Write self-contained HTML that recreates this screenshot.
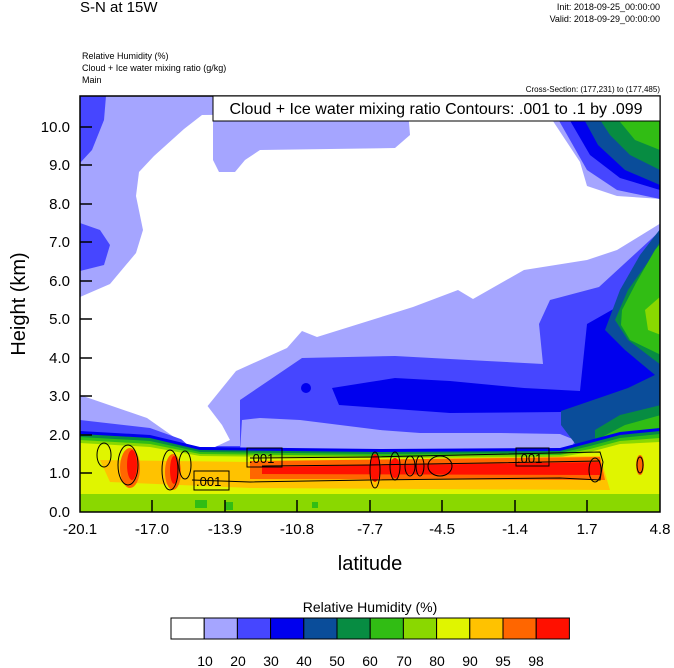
<!DOCTYPE html>
<html><head><meta charset="utf-8"><style>
body{margin:0;background:#fff;width:674px;height:668px;overflow:hidden}
svg{display:block;font-family:"Liberation Sans",sans-serif}
</style></head><body>
<svg width="674" height="668" viewBox="0 0 674 668">
<text x="80" y="12" font-size="15">S-N at 15W</text>
<text x="660" y="10" font-size="9" text-anchor="end">Init: 2018-09-25_00:00:00</text>
<text x="660" y="22" font-size="9" text-anchor="end">Valid: 2018-09-29_00:00:00</text>
<text x="82" y="59" font-size="9">Relative Humidity   (%)</text>
<text x="82" y="71" font-size="9">Cloud + Ice water mixing ratio   (g/kg)</text>
<text x="82" y="83" font-size="9">Main</text>
<text x="660" y="92" font-size="8" text-anchor="end">Cross-Section: (177,231) to (177,485)</text>
<defs><clipPath id="c"><rect x="80" y="96" width="580" height="416"/></clipPath></defs>
<g clip-path="url(#c)">
<rect x="80" y="96" width="580" height="416" fill="#a5a5ff"/>
<path d="M202,115 L547,112 L580,162 L587,186 L617,196 L661,199 L661,223 L617,250 L587,260 L524,270 L473,299 L458,290 L413,307 L317,337 L302,331 L287,348 L236,371 L206,408 L210,425 L225,440 L215,446 L203,445 L191,449 L147,418 L80,395 L80,297 L110,284 L136,253 L143,230 L136,196 L139,172 L154,156 L184,129 Z" fill="#fff"/>
<path d="M213,110 L408,110 L410,135 L395,148 L260,150 L245,160 L235,172 L219,172 L213,160 Z" fill="#a5a5ff"/>
<path d="M80,96 L106,96 L104,120 L92,150 L80,163 Z" fill="#4646ff"/>
<path d="M80,223 L100,230 L110,245 L104,265 L80,271 Z" fill="#4646ff"/>
<path d="M554,112 L660,112 L660,199 L617,190 L587,170 L570,140 Z" fill="#4646ff"/>
<path d="M565,112 L660,112 L660,190 L620,178 L590,155 Z" fill="#0000ee"/>
<path d="M580,112 L660,112 L660,185 L625,170 L598,145 Z" fill="#0a4d9a"/>
<path d="M595,112 L660,112 L660,170 L630,155 L610,135 Z" fill="#078c42"/>
<path d="M612,112 L660,112 L660,150 L635,140 Z" fill="#31bd14"/>
<path d="M243,398 L302,358 L395,356 L487,361 L543,364 L539,324 L550,300 L599,287 L636,253 L661,230 L661,512 L80,512 L80,420 L150,428 L200,446 L240,446 L240,400 Z" fill="#4646ff"/>
<path d="M160,420 L206,404 L222,425 L230,440 L215,447 L190,447 Z" fill="#fff"/>
<path d="M332,388 L395,378 L450,381 L524,388 L580,391 L587,324 L617,307 L650,280 L661,236 L661,420 L580,420 L561,412 L450,413 L339,405 Z" fill="#0000ee"/>
<circle cx="306" cy="388" r="5" fill="#0000ee"/>
<path d="M242,420 L260,418 L300,420 L380,430 L420,433 L500,433 L560,434 L575,440 L570,452 L240,452 Z" fill="#a5a5ff"/>
<path d="M561,411 L599,398 L628,388 L661,372 L661,470 L580,450 L561,425 Z" fill="#0a4d9a"/>
<path d="M605,330 L620,290 L640,255 L661,228 L661,380 L625,350 Z" fill="#0a4d9a"/>
<path d="M615,320 L628,290 L648,262 L661,240 L661,365 L628,340 Z" fill="#078c42"/>
<path d="M622,310 L636,283 L655,250 L661,243 L661,355 L630,340 L621,325 Z" fill="#31bd14"/>
<path d="M645,310 L661,296 L661,335 L648,330 Z" fill="#8ad800"/>
<path d="M595,430 L620,415 L661,405 L661,460 L595,450 Z" fill="#078c42"/>
<path d="M600,438 L625,425 L661,415 L661,460 L600,455 Z" fill="#31bd14"/>
<path d="M80,431 L150,435 L200,447 L380,449 L560,448 L590,440 L620,432 L660,428 L660,512 L80,512 Z" fill="#0000ee"/>
<path d="M80,434 L150,438 L200,450 L380,452 L560,451 L590,443 L620,435 L660,431 L660,512 L80,512 Z" fill="#078c42"/>
<path d="M80,437 L150,441 L200,452 L380,454 L560,453 L590,446 L620,438 L660,434 L660,512 L80,512 Z" fill="#31bd14"/>
<path d="M80,440 L150,444 L200,454 L380,456 L560,455 L590,449 L620,441 L660,438 L660,512 L80,512 Z" fill="#8ad800"/>
<path d="M80,443 L150,447 L200,456 L380,458 L560,457 L590,452 L620,444 L660,442 L660,495 L80,495 Z" fill="#e0f500"/>
<rect x="80" y="494" width="580" height="18" fill="#8ad800"/>
<rect x="195" y="500" width="12" height="8" fill="#31bd14"/><rect x="225" y="502" width="8" height="8" fill="#31bd14"/><rect x="312" y="502" width="6" height="6" fill="#31bd14"/>
<path d="M100,460 L250,462 L600,456 L610,490 L250,488 L110,482 Z" fill="#ffc200"/>
<path d="M250,461 L600,457 L605,480 L250,479 Z" fill="#ff6600"/>
<path d="M262,467 L600,462 L600,475 L262,474 Z" fill="#ff1000"/>
<ellipse cx="130" cy="468" rx="10" ry="20" fill="#ff6600"/>
<ellipse cx="132" cy="465" rx="5" ry="15" fill="#ff1000"/>
<ellipse cx="173" cy="472" rx="8" ry="18" fill="#ff6600"/>
<ellipse cx="174" cy="470" rx="4" ry="14" fill="#ff1000"/>
<ellipse cx="375" cy="468" rx="5" ry="14" fill="#ff1000"/>
<ellipse cx="395" cy="468" rx="5" ry="10" fill="#ff1000"/>
<ellipse cx="640" cy="465" rx="4" ry="10" fill="#ff6600"/>
<g fill="none" stroke="#000" stroke-width="1">
<path d="M250,458 L370,457 L600,452 L603,462 L600,480 L560,478 L370,480 L250,482 L192,480"/>
<path d="M262,466 L370,465 L600,461"/>
<ellipse cx="104" cy="455" rx="7" ry="12"/>
<ellipse cx="128" cy="465" rx="10" ry="20"/>
<ellipse cx="170" cy="470" rx="8" ry="20"/>
<ellipse cx="185" cy="465" rx="6" ry="14"/>
<ellipse cx="375" cy="470" rx="5" ry="18"/>
<ellipse cx="395" cy="466" rx="5" ry="14"/>
<ellipse cx="410" cy="466" rx="5" ry="10"/>
<ellipse cx="420" cy="466" rx="4" ry="10"/>
<ellipse cx="440" cy="466" rx="12" ry="10"/>
<ellipse cx="595" cy="470" rx="6" ry="12"/>
<ellipse cx="640" cy="465" rx="3" ry="8"/>
</g>
<g font-size="13">
<rect x="247" y="448" width="35" height="19" fill="none" stroke="#000"/><text x="249" y="463">.001</text>
<rect x="194" y="471" width="35" height="19" fill="none" stroke="#000"/><text x="196" y="486">.001</text>
<rect x="516" y="448" width="33" height="18" fill="none" stroke="#000"/><text x="517" y="463">.001</text>
</g>
</g>
<rect x="80" y="96" width="580" height="416" fill="none" stroke="#000" stroke-width="1.5"/>
<g stroke="#000" stroke-width="1.5">
<line x1="80" y1="127" x2="92" y2="127"/><line x1="80" y1="165" x2="92" y2="165"/><line x1="80" y1="204" x2="92" y2="204"/><line x1="80" y1="242" x2="92" y2="242"/><line x1="80" y1="281" x2="92" y2="281"/><line x1="80" y1="319" x2="92" y2="319"/><line x1="80" y1="358" x2="92" y2="358"/><line x1="80" y1="396" x2="92" y2="396"/><line x1="80" y1="435" x2="92" y2="435"/><line x1="80" y1="473" x2="92" y2="473"/>
<line x1="152" y1="512" x2="152" y2="500"/><line x1="225" y1="512" x2="225" y2="500"/><line x1="297" y1="512" x2="297" y2="500"/><line x1="370" y1="512" x2="370" y2="500"/><line x1="442" y1="512" x2="442" y2="500"/><line x1="515" y1="512" x2="515" y2="500"/><line x1="587" y1="512" x2="587" y2="500"/>
</g>
<g font-size="15" text-anchor="end">
<text x="70" y="132">10.0</text><text x="70" y="170">9.0</text><text x="70" y="209">8.0</text><text x="70" y="247">7.0</text><text x="70" y="286">6.0</text><text x="70" y="324">5.0</text><text x="70" y="363">4.0</text><text x="70" y="401">3.0</text><text x="70" y="440">2.0</text><text x="70" y="478">1.0</text><text x="70" y="517">0.0</text>
</g>
<g font-size="15" text-anchor="middle">
<text x="80" y="534">-20.1</text><text x="152" y="534">-17.0</text><text x="225" y="534">-13.9</text><text x="297" y="534">-10.8</text><text x="370" y="534">-7.7</text><text x="442" y="534">-4.5</text><text x="515" y="534">-1.4</text><text x="587" y="534">1.7</text><text x="660" y="534">4.8</text>
</g>
<text transform="translate(25,304) rotate(-90)" font-size="20" text-anchor="middle">Height (km)</text>
<text x="370" y="570" font-size="20" text-anchor="middle">latitude</text>
<rect x="213" y="96" width="447" height="25" fill="#fff" stroke="#000"/>
<text x="436" y="114" font-size="16" text-anchor="middle">Cloud + Ice water mixing ratio Contours: .001 to .1 by .099</text>
<text x="370" y="612" font-size="14" text-anchor="middle">Relative Humidity  (%)</text>
<g stroke="#000" stroke-width="1">
<rect x="171" y="618" width="33.2" height="21" fill="#fff"/>
<rect x="204.2" y="618" width="33.2" height="21" fill="#a5a5ff"/>
<rect x="237.4" y="618" width="33.2" height="21" fill="#4646ff"/>
<rect x="270.6" y="618" width="33.2" height="21" fill="#0000ee"/>
<rect x="303.8" y="618" width="33.2" height="21" fill="#0a4d9a"/>
<rect x="337" y="618" width="33.2" height="21" fill="#078c42"/>
<rect x="370.2" y="618" width="33.2" height="21" fill="#31bd14"/>
<rect x="403.4" y="618" width="33.2" height="21" fill="#8ad800"/>
<rect x="436.6" y="618" width="33.2" height="21" fill="#e0f500"/>
<rect x="469.8" y="618" width="33.2" height="21" fill="#ffc200"/>
<rect x="503" y="618" width="33.2" height="21" fill="#ff6600"/>
<rect x="536.2" y="618" width="33.2" height="21" fill="#ff1000"/>
</g>
<g font-size="14" text-anchor="middle">
<text x="205" y="666">10</text><text x="238" y="666">20</text><text x="271" y="666">30</text><text x="304" y="666">40</text><text x="337" y="666">50</text><text x="370" y="666">60</text><text x="404" y="666">70</text><text x="437" y="666">80</text><text x="470" y="666">90</text><text x="503" y="666">95</text><text x="536" y="666">98</text>
</g>
</svg>
</body></html>
